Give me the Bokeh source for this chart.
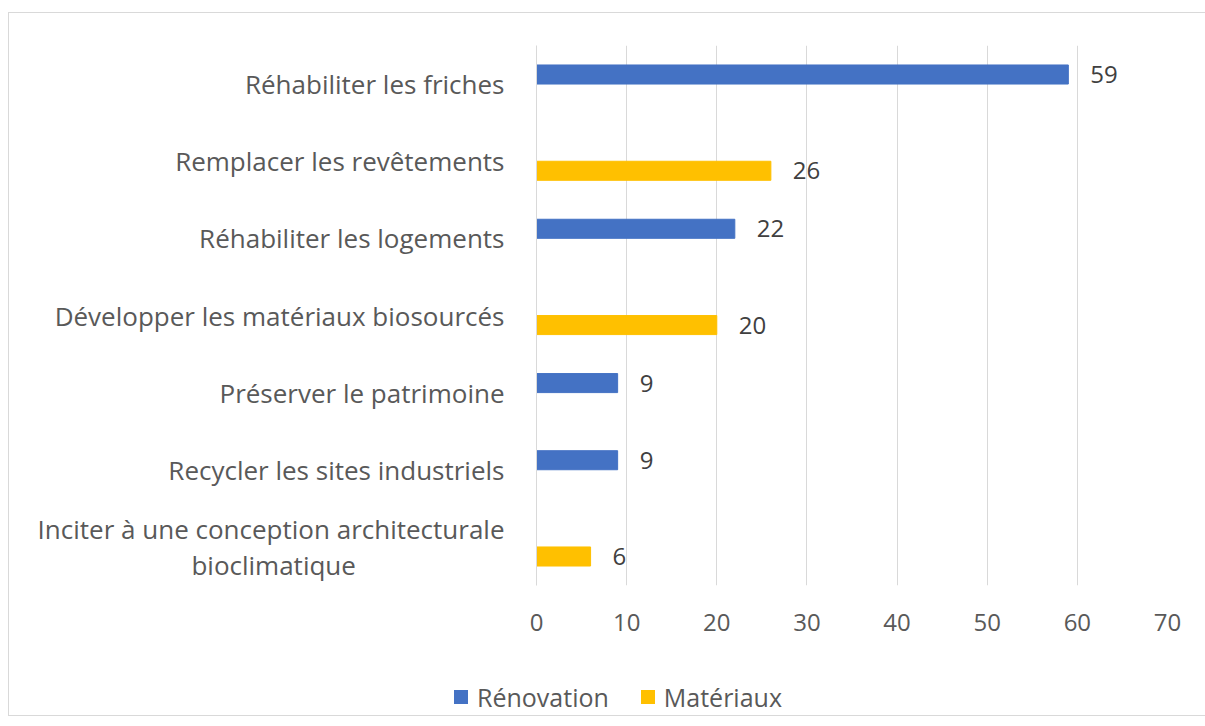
from bokeh.plotting import figure
from bokeh.models import ColumnDataSource, FactorRange, Range1d, FixedTicker, Div
from bokeh.layouts import column
from bokeh.transform import dodge
from bokeh.core.properties import value
from bokeh.embed import file_html
from bokeh.resources import INLINE

NB = "\u00a0"
categories = [
    "Réhabiliter les friches",
    "Remplacer les revêtements",
    "Réhabiliter les logements",
    "Développer les matériaux biosourcés",
    "Préserver le patrimoine",
    "Recycler les sites industriels",
    "Inciter à une conception architecturale\nbioclimatique" + NB * 22,
]
renovation = [59, 0, 22, 0, 9, 9, 0]
materiaux = [0, 26, 0, 20, 0, 0, 6]
x_ticks = [0, 10, 20, 30, 40, 50, 60, 70]
series_names = ["Rénovation", "Matériaux"]

BLUE = "#4472C4"
YELLOW = "#FFC000"
FONT = "Open Sans"
TXT = "#595959"

src = ColumnDataSource(dict(cat=categories, ren=renovation, mat=materiaux))

lab_ren = ColumnDataSource(dict(
    cat=[c for c, v in zip(categories, renovation) if v],
    v=[v for v in renovation if v],
    t=[str(v) for v in renovation if v]))
lab_mat = ColumnDataSource(dict(
    cat=[c for c, v in zip(categories, materiaux) if v],
    v=[v for v in materiaux if v],
    t=[str(v) for v in materiaux if v]))

p = figure(width=1188, height=632,
           y_range=FactorRange(*categories[::-1]),
           x_range=Range1d(0, 70),
           output_backend="svg", toolbar_location=None,
           min_border_left=527, min_border_right=30,
           min_border_top=32, min_border_bottom=60)
p.outline_line_color = None
p.background_fill_color = "white"
p.border_fill_color = "white"

off = 0.124
h = 0.247
r1 = p.hbar(y=dodge("cat", off, range=p.y_range), right="ren", left=0, height=h,
            color=BLUE, source=src)
r2 = p.hbar(y=dodge("cat", -off, range=p.y_range), right="mat", left=0, height=h,
            color=YELLOW, source=src)

p.text(x="v", y=dodge("cat", off, range=p.y_range), text="t", source=lab_ren,
       x_offset=22, text_baseline="middle", text_align="left",
       text_font=value(FONT), text_font_size="24px", text_color="#404040")
p.text(x="v", y=dodge("cat", -off, range=p.y_range), text="t", source=lab_mat,
       x_offset=22, text_baseline="middle", text_align="left",
       text_font=value(FONT), text_font_size="24px", text_color="#404040")

p.xaxis.ticker = FixedTicker(ticks=x_ticks)
p.xaxis.axis_line_color = None
p.xaxis.major_tick_line_color = None
p.xaxis.minor_tick_line_color = None
p.xaxis.major_label_standoff = 22
p.xaxis.major_label_text_font = FONT
p.xaxis.major_label_text_font_size = "24px"
p.xaxis.major_label_text_color = TXT

p.yaxis.axis_line_color = "#d9d9d9"
p.yaxis.major_tick_line_color = None
p.yaxis.minor_tick_line_color = None
p.yaxis.major_label_standoff = 26
p.yaxis.major_label_text_font = FONT
p.yaxis.major_label_text_font_size = "26px"
p.yaxis.major_label_text_line_height = 1.0
p.yaxis.major_label_text_color = TXT

p.xgrid.grid_line_color = "#d9d9d9"
p.ygrid.grid_line_color = None

# legend strip (HTML text)
sq = "display:inline-block;width:14px;height:14px;"
legend_html = (
    '<div style="margin-left:440px;padding-top:32px;display:flex;align-items:center;'
    'white-space:nowrap;font-family:\'Open Sans\';font-size:25px;line-height:30px;'
    f'color:{TXT};">'
    f'<span style="{sq}background:{BLUE};margin-right:9px;"></span>'
    f'<span>{series_names[0]}</span>'
    f'<span style="{sq}background:{YELLOW};margin-left:32px;margin-right:9px;"></span>'
    f'<span>{series_names[1]}</span>'
    '</div>'
)
lg = Div(text=legend_html, width=1188, height=60)

layout = column(p, lg, spacing=0)
layout.styles = {"border": "1px solid #d9d9d9", "margin-top": "12px", "margin-left": "8px"}

open("out.html", "w").write(file_html(layout, INLINE))
